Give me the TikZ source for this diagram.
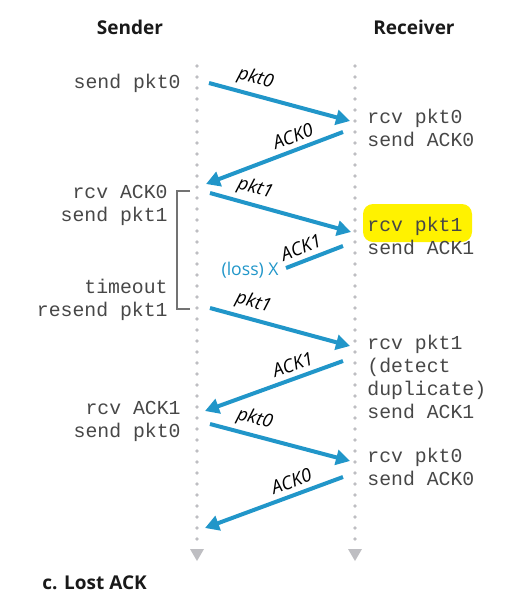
\documentclass[tikz,border=0pt]{standalone}
\usepackage{fontspec}
\setmonofont{Liberation Mono}
\newfontfamily\labelfont{Open Sans}
\usetikzlibrary{arrows.meta}

\definecolor{msgblue}{RGB}{33,150,201}
\definecolor{dotgray}{RGB}{190,190,194}
\definecolor{marker}{RGB}{255,242,0}

\tikzset{
  event/.style={font=\ttfamily\fontsize{9.9}{11.5}\selectfont, text=black!72, inner sep=0pt},
  msg/.style={draw=msgblue, line width=2pt, -{Triangle[length=7pt,width=7.5pt]}},
  lost/.style={draw=msgblue, line width=2pt},
  msglabel/.style={font=\labelfont\itshape\fontsize{9.2}{10}\selectfont, sloped, above, inner sep=2.5pt, text=black},
  head/.style={font=\labelfont\bfseries\fontsize{9.5}{12}\selectfont, text=black!90},
  bracket/.style={draw=black!55, line width=0.7pt}
}

\begin{document}
\begin{tikzpicture}[x=0.5pt, y=-0.5pt]
  \useasboundingbox (0,0) rectangle (516,612);

  % headings
  \node[head] (sender) at (130,27) {Sender};
  \node[head] (receiver) at (414,27) {Receiver};

  % time lines
  \foreach \y in {66,77,...,542} {
    \fill[dotgray] (197,\y) circle (1.9);
    \fill[dotgray] (355,\y) circle (1.9);
  }
  \fill[dotgray] (190,549) -- (204,549) -- (197,561) -- cycle;
  \fill[dotgray] (348,549) -- (362,549) -- (355,561) -- cycle;

  % message end points
  \coordinate (s1) at (209,83);   \coordinate (r1) at (350,121);
  \coordinate (r2) at (343,132);  \coordinate (s2) at (206,184);
  \coordinate (s3) at (210,193);  \coordinate (r3) at (351,232);
  \coordinate (r4) at (343,246);  \coordinate (x4) at (286,268);
  \coordinate (s5) at (210,308);  \coordinate (r5) at (350,346);
  \coordinate (r6) at (343,361);  \coordinate (s6) at (205,411);
  \coordinate (s7) at (210,424);  \coordinate (r7) at (350,461);
  \coordinate (r8) at (343,477);  \coordinate (s8) at (205,528);

  % highlight
  \fill[marker, rounded corners=5pt] (363,204) rectangle (472,242);

  % sender events
  \node[event, anchor=east] (sendpkt0) at (181,83) {send pkt0};
  \node[event, anchor=east, align=right] (rcvack0) at (168,205) {rcv ACK0\\send pkt1};
  \node[event, anchor=east, align=right] (timeout) at (168,300) {timeout\\resend pkt1};
  \node[event, anchor=east, align=right] (rcvack1) at (181,421) {rcv ACK1\\send pkt0};

  % receiver events
  \node[event, anchor=west, align=left] (rcvpkt0) at (367,128) {rcv pkt0\\send ACK0};
  \node[event, anchor=west, align=left] (rcvpkt1) at (367,236) {rcv pkt1\\send ACK1};
  \node[event, anchor=west, align=left] (dup) at (367,377) {rcv pkt1\\(detect\\duplicate)\\send ACK1};
  \node[event, anchor=west, align=left] (rcvpkt0b) at (367,467) {rcv pkt0\\send ACK0};

  % timeout bracket
  \coordinate (brtop) at (190,191);
  \coordinate (brbot) at (190,309);
  \draw[bracket] (brtop) -- ++(-13,0) |- (brbot);

  % messages
  \draw[msg] (s1) -- node[msglabel, pos=0.3] {pkt0} (r1);
  \draw[msg] (r2) -- node[msglabel, pos=0.33] {ACK0} (s2);
  \draw[msg] (s3) -- node[msglabel, pos=0.29] {pkt1} (r3);
  \draw[lost] (r4) -- node[msglabel, pos=0.65] {ACK1} (x4);
  \node[font=\labelfont\fontsize{8.8}{10}\selectfont, text=msgblue, anchor=east, inner sep=0pt] (loss) at (279,270) {(loss) X};
  \draw[msg] (s5) -- node[msglabel, pos=0.28] {pkt1} (r5);
  \draw[msg] (r6) -- node[msglabel, pos=0.33] {ACK1} (s6);
  \draw[msg] (s7) -- node[msglabel, pos=0.29] {pkt0} (r7);
  \draw[msg] (r8) -- node[msglabel, pos=0.34] {ACK0} (s8);

  % caption
  \node[head, anchor=west, inner sep=0pt] (caption) at (42,583) {c. Lost ACK};
\end{tikzpicture}
\end{document}
